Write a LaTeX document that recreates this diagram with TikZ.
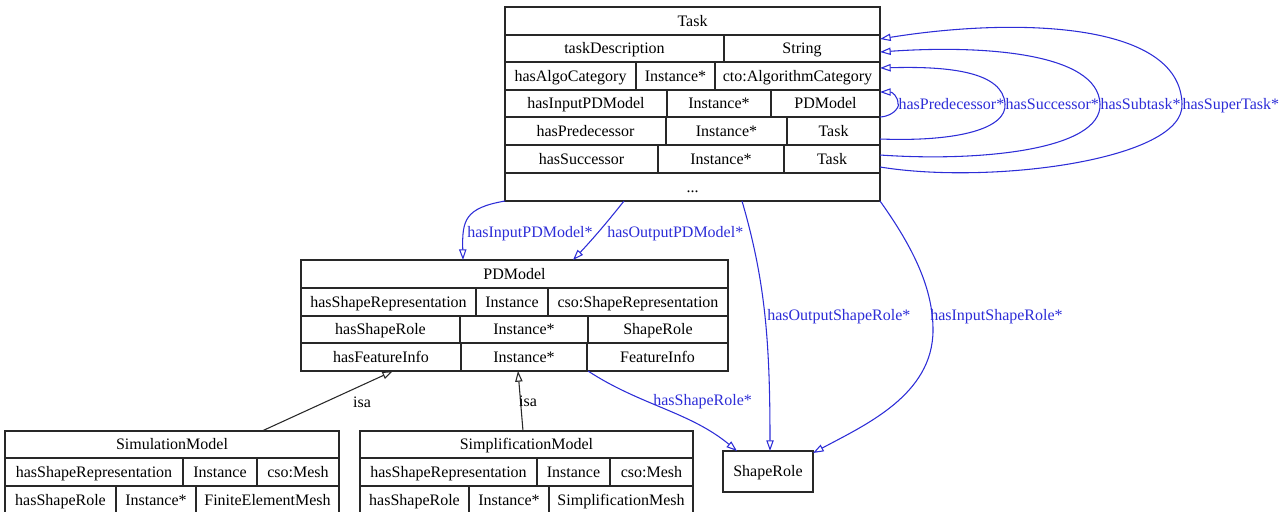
\documentclass[tikz,border=0pt]{standalone}
\usepackage{fontspec}
\setmainfont{Liberation Serif}
\usetikzlibrary{arrows.meta,fit}
\definecolor{relblue}{RGB}{45,45,215}
\definecolor{ink}{RGB}{40,40,40}
% three-cell row: name, y top, y bottom, divider a, divider b, texts
\newcommand\rowthree[8]{%
  \draw[tline] (\tL,#2) -- (\tR,#2) (#4,#2) -- (#4,#3) (#5,#2) -- (#5,#3);
  \node[cell] (#1-1) at ({(\tL+#4)/2},{(#2+#3)/2}) {#6};
  \node[cell] (#1-2) at ({(#4+#5)/2},{(#2+#3)/2}) {#7};
  \node[cell] (#1-3) at ({(#5+\tR)/2},{(#2+#3)/2}) {#8};}
% two-cell row: name, y top, y bottom, divider, texts
\newcommand\rowtwo[6]{%
  \draw[tline] (\tL,#2) -- (\tR,#2) (#4,#2) -- (#4,#3);
  \node[cell] (#1-1) at ({(\tL+#4)/2},{(#2+#3)/2}) {#5};
  \node[cell] (#1-2) at ({(#4+\tR)/2},{(#2+#3)/2}) {#6};}
% one-cell row: name, y top, y bottom, text
\newcommand\rowone[4]{%
  \draw[tline] (\tL,#2) -- (\tR,#2);
  \node[cell] (#1) at ({(\tL+\tR)/2},{(#2+#3)/2}) {#4};}
\begin{document}
\begin{tikzpicture}[x=0.75pt,y=-0.75pt,
  every node/.style={font=\fontsize{12}{14}\selectfont},
  cell/.style={inner sep=0pt, text height=7.9pt, text depth=0pt, text=black},
  tbl/.style={draw=ink, line width=0.8pt, inner sep=0pt},
  tline/.style={draw=ink, line width=0.8pt},
  rel/.style={draw=relblue, line width=0.8pt, -{Triangle[open,length=8pt,width=5.5pt]}},
  rellabel/.style={text=relblue, inner sep=0pt, text height=7.9pt, text depth=0pt},
  isa/.style={draw=ink, line width=0.8pt, -{Triangle[open,length=8pt,width=5.5pt]}},
  isalabel/.style={text=black, inner sep=0pt, text height=7.9pt, text depth=0pt}]
\useasboundingbox (0,0) rectangle (1287,511);

% ---------- Task ----------
\node[tbl, fit={(505,7) (880,201)}] (task) {};
\def\tL{505}\def\tR{880}
\node[cell] (task-title) at (692.5,21) {Task};
\rowtwo{task-desc}{35}{62}{724}{taskDescription}{String}
\rowthree{task-algo}{62}{90}{636}{715}{hasAlgoCategory}{Instance*}{cto:AlgorithmCategory}
\rowthree{task-inpd}{90}{117}{667}{771}{hasInputPDModel}{Instance*}{PDModel}
\rowthree{task-pred}{117}{145}{666}{787}{hasPredecessor}{Instance*}{Task}
\rowthree{task-succ}{145}{173}{658}{784}{hasSuccessor}{Instance*}{Task}
\rowone{task-more}{173}{201}{...}

% ---------- PDModel ----------
\node[tbl, fit={(301,260) (728,371)}] (pdm) {};
\def\tL{301}\def\tR{728}
\node[cell] (pdm-title) at (514.5,274) {PDModel};
\rowthree{pdm-rep}{288}{316}{476}{548}{hasShapeRepresentation}{Instance}{cso:ShapeRepresentation}
\rowthree{pdm-role}{316}{343}{460}{588}{hasShapeRole}{Instance*}{ShapeRole}
\rowthree{pdm-feat}{343}{371}{461}{587}{hasFeatureInfo}{Instance*}{FeatureInfo}

% ---------- SimulationModel ----------
\node[tbl, fit={(5,431) (339,514)}] (sim) {};
\def\tL{5}\def\tR{339}
\node[cell] (sim-title) at (172,444.5) {SimulationModel};
\rowthree{sim-rep}{458}{486}{183}{257}{hasShapeRepresentation}{Instance}{cso:Mesh}
\rowthree{sim-role}{486}{514}{116}{196}{hasShapeRole}{Instance*}{FiniteElementMesh}

% ---------- SimplificationModel ----------
\node[tbl, fit={(360,431) (693,514)}] (simp) {};
\def\tL{360}\def\tR{693}
\node[cell] (simp-title) at (526.5,444.5) {SimplificationModel};
\rowthree{simp-rep}{458}{486}{537}{610}{hasShapeRepresentation}{Instance}{cso:Mesh}
\rowthree{simp-role}{486}{514}{469}{549}{hasShapeRole}{Instance*}{SimplificationMesh}

% ---------- ShapeRole ----------
\node[tbl, fit={(723,451) (813,492)}] (role) {};
\node[cell] (role-title) at (768,471.5) {ShapeRole};

% ---------- ports on the class boxes ----------
\coordinate (task-s1) at (880,167);
\coordinate (task-e1) at (880,39);
\coordinate (task-s2) at (880,155);
\coordinate (task-e2) at (880,52);
\coordinate (task-s3) at (880,139);
\coordinate (task-e3) at (880,68);
\coordinate (task-s4) at (880,117);
\coordinate (task-e4) at (880,92);
\coordinate (task-b1) at (505,201);
\coordinate (task-b2) at (624,201);
\coordinate (task-b3) at (742,201);
\coordinate (task-b4) at (880,201);
\coordinate (pdm-t1) at (463,260);
\coordinate (pdm-t2) at (573,260);
\coordinate (pdm-b1) at (393,371);
\coordinate (pdm-b2) at (518,371);
\coordinate (pdm-b3) at (588,371);
\coordinate (role-t1) at (737,451);
\coordinate (role-t2) at (770,451);
\coordinate (role-t3) at (813,453);
\coordinate (sim-t) at (262,431);
\coordinate (simp-t) at (523,431);

% ---------- self relations of Task ----------
\draw[rel] (task-s1) .. controls (990,185) and (1185,160) .. (1182,104)
  node[rellabel, anchor=west] (lbl-super) {hasSuperTask*}
  .. controls (1180,20) and (1010,18) .. (task-e1);
\draw[rel] (task-s2) .. controls (980,162) and (1102,150) .. (1100,104)
  node[rellabel, anchor=west] (lbl-sub) {hasSubtask*}
  .. controls (1098,52) and (980,45) .. (task-e2);
\draw[rel] (task-s3) .. controls (960,142) and (1007,128) .. (1005,104)
  node[rellabel, anchor=west] (lbl-succ) {hasSuccessor*}
  .. controls (1003,72) and (950,66) .. (task-e3);
\draw[rel] (task-s4) .. controls (896,116) and (900,104) .. (898,104)
  node[rellabel, anchor=west] (lbl-pred) {hasPredecessor*}
  .. controls (898,96) and (892,92) .. (task-e4);

% ---------- Task to PDModel and ShapeRole ----------
\draw[rel] (task-b1) .. controls (465,208) and (462,220) .. (pdm-t1);
\node[rellabel, anchor=west] (lbl-inpd) at (467,232) {hasInputPDModel*};
\draw[rel] (task-b2) .. controls (605,225) and (590,242) .. (pdm-t2);
\node[rellabel, anchor=west] (lbl-outpd) at (607,232) {hasOutputPDModel*};
\draw[rel] (task-b3) .. controls (765,280) and (770,340) .. (role-t2);
\node[rellabel, anchor=west] (lbl-outrole) at (767,315) {hasOutputShapeRole*};
\draw[rel] (task-b4) .. controls (915,250) and (933,290) .. (933,330)
  .. controls (933,395) and (865,425) .. (role-t3);
\node[rellabel, anchor=west] (lbl-inrole) at (930,315) {hasInputShapeRole*};

% ---------- PDModel to ShapeRole ----------
\draw[rel] (pdm-b3) .. controls (640,405) and (690,412) .. (role-t1);
\node[rellabel, anchor=west] (lbl-role) at (653,400) {hasShapeRole*};

% ---------- subclass links ----------
\draw[isa] (sim-t) -- (pdm-b1);
\node[isalabel] (lbl-isa1) at (362,402) {isa};
\draw[isa] (simp-t) -- (pdm-b2);
\node[isalabel] (lbl-isa2) at (528,401) {isa};
\end{tikzpicture}
\end{document}
